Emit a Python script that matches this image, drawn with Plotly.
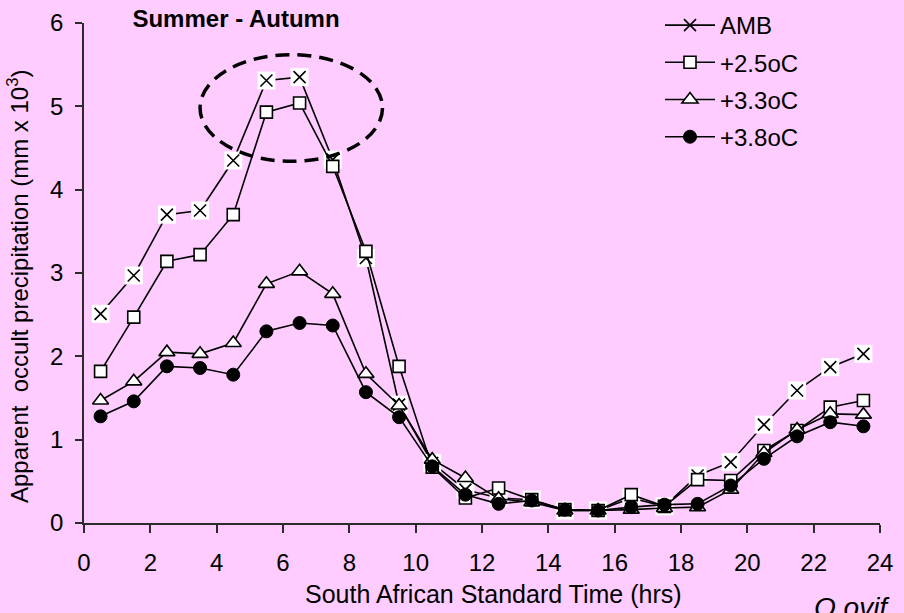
import plotly.graph_objects as go

hours = [0.5, 1.5, 2.5, 3.5, 4.5, 5.5, 6.5, 7.5, 8.5, 9.5, 10.5, 11.5,
         12.5, 13.5, 14.5, 15.5, 16.5, 17.5, 18.5, 19.5, 20.5, 21.5, 22.5, 23.5]
amb = [2.51, 2.97, 3.70, 3.75, 4.35, 5.31, 5.35, 4.36, 3.18, 1.42, 0.72, 0.40,
       0.30, 0.28, 0.15, 0.15, 0.30, 0.20, 0.57, 0.73, 1.18, 1.59, 1.87, 2.03]
p25 = [1.82, 2.47, 3.14, 3.22, 3.70, 4.93, 5.04, 4.28, 3.26, 1.88, 0.67, 0.30,
       0.42, 0.28, 0.16, 0.15, 0.34, 0.20, 0.52, 0.51, 0.87, 1.11, 1.39, 1.47]
p33 = [1.47, 1.70, 2.05, 2.03, 2.16, 2.87, 3.02, 2.75, 1.79, 1.41, 0.76, 0.54,
       0.29, 0.25, 0.15, 0.15, 0.16, 0.18, 0.19, 0.40, 0.84, 1.12, 1.31, 1.30]
p38 = [1.28, 1.46, 1.88, 1.86, 1.78, 2.30, 2.40, 2.37, 1.57, 1.27, 0.68, 0.34,
       0.23, 0.27, 0.16, 0.15, 0.19, 0.22, 0.23, 0.45, 0.77, 1.04, 1.21, 1.16]
series_names = ["AMB", "+2.5oC", "+3.3oC", "+3.8oC"]
x_ticks = [0, 2, 4, 6, 8, 10, 12, 14, 16, 18, 20, 22, 24]
y_ticks = [0, 1, 2, 3, 4, 5, 6]
highlight_x = (3.5, 9.0)
highlight_y = (4.34, 5.62)

BG = "#FFCCFF"
FONT = "Arial, Liberation Sans, sans-serif"
FS = 24
LW = 1.6

fig = go.Figure()

# AMB: line + x markers, then white boxes, then x markers again on top
fig.add_trace(go.Scatter(
    x=hours, y=amb, name=series_names[0], mode="lines+markers",
    line=dict(color="black", width=LW),
    marker=dict(symbol="x-thin-open", size=12, color="black",
                line=dict(color="black", width=1.6)),
    legendgroup="a"))
fig.add_trace(go.Scatter(
    x=hours, y=amb, mode="markers", showlegend=False, hoverinfo="skip",
    marker=dict(symbol="square", size=18, color="white", line=dict(width=0))))
fig.add_trace(go.Scatter(
    x=hours, y=amb, mode="markers", showlegend=False,
    marker=dict(symbol="x-thin-open", size=12, color="black",
                line=dict(color="black", width=1.6))))

fig.add_trace(go.Scatter(
    x=hours, y=p25, name=series_names[1], mode="lines+markers",
    line=dict(color="black", width=LW),
    marker=dict(symbol="square", size=12, color="white",
                line=dict(color="black", width=1.6)),
    legendgroup="b"))
fig.add_trace(go.Scatter(
    x=hours, y=p33, name=series_names[2], mode="lines+markers",
    line=dict(color="black", width=LW),
    marker=dict(symbol="triangle-up", size=14, color="white",
                line=dict(color="black", width=1.6)),
    legendgroup="c"))
fig.add_trace(go.Scatter(
    x=hours, y=p38, name=series_names[3], mode="lines+markers",
    line=dict(color="black", width=LW),
    marker=dict(symbol="circle", size=13, color="black",
                line=dict(color="black", width=1)),
    legendgroup="d"))

fig.add_shape(type="circle", xref="x", yref="y",
              x0=highlight_x[0], x1=highlight_x[1],
              y0=highlight_y[0], y1=highlight_y[1],
              line=dict(color="black", width=3.5, dash="14px,8px"),
              layer="above")

fig.update_layout(
    width=904, height=613,
    margin=dict(l=84, r=24, t=23, b=90, autoexpand=False),
    paper_bgcolor=BG, plot_bgcolor=BG,
    font=dict(family=FONT, size=FS, color="black"),
    title=dict(text="<b>Summer - Autumn</b>", x=(236 - 84) / 796, xref="paper",
               xanchor="center", y=1 - 19 / 613, yanchor="middle",
               font=dict(family=FONT, size=FS, color="black")),
    showlegend=True,
    legend=dict(x=(660 - 84) / 796, xanchor="left", y=1 + (23 - 3) / 500,
                yanchor="top",
                bgcolor="rgba(0,0,0,0)", font=dict(size=FS, family=FONT),
                tracegroupgap=3, itemwidth=50),
    xaxis=dict(range=[0, 24], tickvals=x_ticks, ticktext=[str(v) for v in x_ticks],
               showgrid=False, zeroline=False, showline=True, automargin=False,
               linecolor="#2b2b2b", linewidth=1.6, ticks="outside", ticklen=8,
               tickwidth=1.6, tickcolor="#2b2b2b", ticklabelstandoff=9),
    yaxis=dict(range=[0, 6], tickvals=y_ticks, ticktext=[str(v) for v in y_ticks],
               showgrid=False, zeroline=False, showline=True, automargin=False,
               linecolor="#2b2b2b", linewidth=1.6, ticks="outside", ticklen=7,
               tickwidth=1.6, tickcolor="#2b2b2b", ticklabelstandoff=7),
    annotations=[
        dict(text="South African Standard Time (hrs)", xref="paper", yref="paper",
             x=(493.5 - 84) / 796, y=-(594 - 523) / 500, xanchor="center",
             yanchor="middle", showarrow=False,
             font=dict(family=FONT, size=25, color="black")),
        dict(text="Apparent  occult precipitation (mm x 10<sup>3</sup>)",
             xref="paper", yref="paper", textangle=-90,
             x=(18 - 84) / 796, y=(523 - 286) / 500, xanchor="center",
             yanchor="middle", showarrow=False,
             font=dict(family=FONT, size=FS, color="black")),
        dict(text="<i>O ovif</i>", xref="paper", yref="paper",
             x=(812 - 84) / 796, y=-(590 - 523) / 500,
             xanchor="left", yanchor="top", showarrow=False,
             font=dict(family=FONT, size=28, color="black")),
    ],
)

fig.write_html("out.html", config={"displayModeBar": False},
               post_script="document.body.style.margin='0';")
